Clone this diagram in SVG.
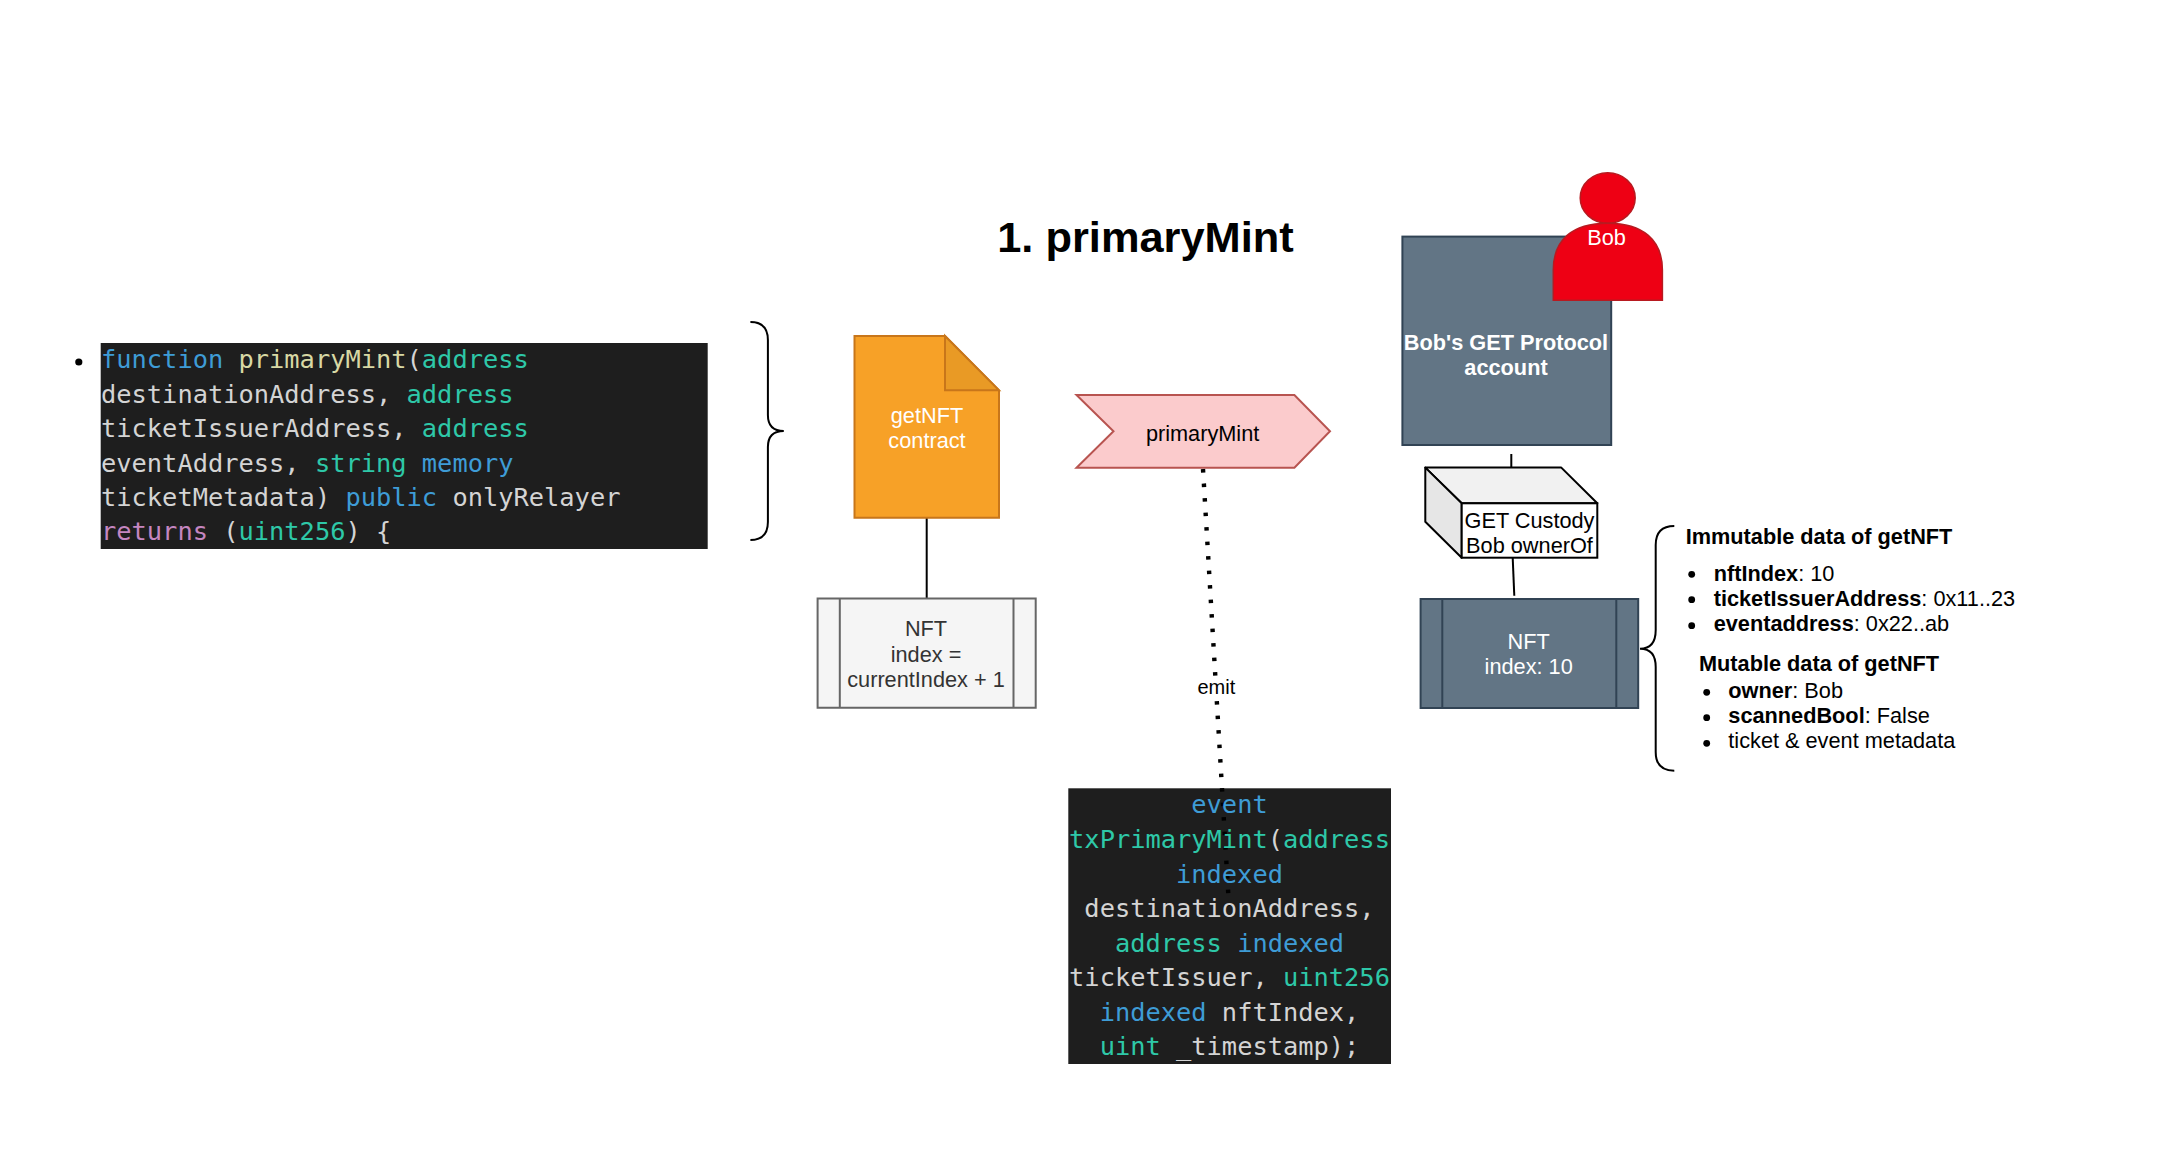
<svg xmlns="http://www.w3.org/2000/svg" width="2172" height="1156" viewBox="0 0 2172 1156">
<style>
text{font-family:"Liberation Sans",Arial,sans-serif;font-size:21.73px;fill:#000}
.c{text-anchor:middle}
.w{fill:#fff}
.b{font-weight:bold}
.m{font-family:"DejaVu Sans Mono",monospace;font-size:25.38px;fill:#d4d4d4;white-space:pre}
.k{fill:#3e9cd6}.t{fill:#2ec8a8}.y{fill:#d8d8a4}.p{fill:#c586c0}
.code{fill:#1e1e1e;stroke:none}
.slate{fill:#627585;stroke:#314354;stroke-width:2}
.line{fill:none;stroke:#000;stroke-width:2}
.dot{fill:#000;stroke:none}
</style>
<rect width="2172" height="1156" fill="#fff"/>
<g id="code-event-box"><rect class="code" x="1068.3" y="788.3" width="322.7" height="275.7"/></g>
<g id="connectors">
<path class="line" d="M926.7,517.7V598"/>
<path class="line" d="M1511.3,454V467"/>
<path class="line" d="M1512.7,557.7L1514.3,595.7"/>
<path d="M1203,469L1229,906" fill="none" stroke="#000" stroke-width="4.4" stroke-dasharray="3.6 10.93"/>
<rect x="1197" y="678" width="39" height="20" fill="#fff"/>
<text class="c" x="1216.4" y="693.5" style="font-size:20px">emit</text>
</g>
<text id="title" class="b c" x="1145.5" y="252" style="font-size:43.4px">1. primaryMint</text>
<g id="code-function">
<circle class="dot" cx="78.8" cy="362" r="3.6"/>
<rect class="code" x="100.7" y="343" width="607" height="206"/>
<text class="m" x="101" y="368"><tspan class="k">function</tspan> <tspan class="y">primaryMint</tspan>(<tspan class="t">address</tspan></text>
<text class="m" x="101" y="402.7">destinationAddress, <tspan class="t">address</tspan></text>
<text class="m" x="101" y="437">ticketIssuerAddress, <tspan class="t">address</tspan></text>
<text class="m" x="101" y="471.5">eventAddress, <tspan class="t">string</tspan> <tspan class="k">memory</tspan></text>
<text class="m" x="101" y="506">ticketMetadata) <tspan class="k">public</tspan> onlyRelayer</text>
<text class="m" x="101" y="540.3"><tspan class="p">returns</tspan> (<tspan class="t">uint256</tspan>) {</text>
</g>
<g id="brace-function">
<path class="line" d="M750.4,322Q767.9,322 767.9,340V415Q767.9,431 783.8,431Q767.9,431 767.9,447V522Q767.9,540 750.4,540"/>
</g>
<g id="contract">
<path d="M854.5,336H945L999,390.3V517.7H854.5Z" fill="#f7a127" stroke="#c8761a" stroke-width="2"/>
<path d="M945,336V390.3H999Z" fill="#e99a25" stroke="#c8761a" stroke-width="2"/>
<text class="c w" x="927" y="423">getNFT</text>
<text class="c w" x="927" y="448">contract</text>
</g>
<g id="nft-new">
<path d="M817.6,598.5H1035.7V707.7H817.6ZM839.8,598.5V707.7M1013.5,598.5V707.7" fill="#f5f5f5" stroke="#666" stroke-width="2"/>
<text class="c" x="926" y="636" style="fill:#333">NFT</text>
<text class="c" x="926" y="661.5" style="fill:#333">index =</text>
<text class="c" x="926" y="686.5" style="fill:#333">currentIndex + 1</text>
</g>
<g id="event-primary">
<path d="M1076.5,395H1294.4L1330,431.3L1294.4,467.7H1076.5L1113.5,431.3Z" fill="#fbcbcc" stroke="#b85450" stroke-width="2"/>
<text class="c" x="1202.6" y="441">primaryMint</text>
</g>
<g id="code-event">
<text class="m c" x="1229.5" y="813.3"><tspan class="k">event</tspan></text>
<text class="m c" x="1229.5" y="848"><tspan class="t">txPrimaryMint</tspan>(<tspan class="t">address</tspan></text>
<text class="m c" x="1229.5" y="882.7"><tspan class="k">indexed</tspan></text>
<text class="m c" x="1229.5" y="917.4">destinationAddress,</text>
<text class="m c" x="1229.5" y="952"><tspan class="t">address</tspan> <tspan class="k">indexed</tspan></text>
<text class="m c" x="1229.5" y="986.3">ticketIssuer, <tspan class="t">uint256</tspan></text>
<text class="m c" x="1229.5" y="1021"><tspan class="k">indexed</tspan> nftIndex,</text>
<text class="m c" x="1229.5" y="1055.4"><tspan class="t">uint</tspan> _timestamp);</text>
</g>
<g id="account">
<rect class="slate" x="1402.4" y="236.6" width="208.8" height="208.4"/>
<text class="c w b" x="1506" y="350">Bob's GET Protocol</text>
<text class="c w b" x="1506" y="375">account</text>
</g>
<g id="bob">
<ellipse cx="1607.7" cy="198" rx="27.5" ry="25.3" fill="#ee0014" stroke="#b81a20" stroke-width="1.5"/>
<path d="M1553.3,300.3V270C1553.3,240 1572,223.3 1607.7,223.3C1643,223.3 1662.4,240 1662.4,270V300.3Z" fill="#ee0014" stroke="#b81a20" stroke-width="1.5"/>
<text class="c w" x="1606.5" y="245">Bob</text>
</g>
<g id="custody">
<path d="M1425.3,467.6H1561.3L1597.3,503.3H1461.7Z" fill="#f1f1f1" stroke="#000" stroke-width="2" stroke-linejoin="round"/>
<path d="M1425.3,467.6L1461.7,503.3V557.7L1425.3,521.7Z" fill="#e6e6e6" stroke="#000" stroke-width="2" stroke-linejoin="round"/>
<rect x="1461.7" y="503.3" width="135.6" height="54.4" fill="#fff" stroke="#000" stroke-width="2"/>
<text class="c" x="1529.5" y="528">GET Custody</text>
<text class="c" x="1529.5" y="553">Bob ownerOf</text>
</g>
<g id="nft-10">
<path class="slate" d="M1420.6,599H1638.2V708H1420.6ZM1442.3,599V708M1616.3,599V708"/>
<text class="c w" x="1528.7" y="649">NFT</text>
<text class="c w" x="1528.7" y="674">index: 10</text>
</g>
<g id="brace-data">
<path class="line" d="M1674.3,526Q1655.7,526 1655.7,545V630Q1655.7,648.7 1640,648.7Q1655.7,648.7 1655.7,667V752Q1655.7,770.7 1674.3,770.7"/>
</g>
<g id="data">
<text class="b" x="1685.7" y="544">Immutable data of getNFT</text>
<circle class="dot" cx="1691.7" cy="574.3" r="3.4"/><circle class="dot" cx="1691.7" cy="599.7" r="3.4"/><circle class="dot" cx="1691.7" cy="625.7" r="3.4"/>
<text x="1713.7" y="580.5"><tspan class="b">nftIndex</tspan>: 10</text>
<text x="1713.7" y="605.5"><tspan class="b">ticketIssuerAddress</tspan>: 0x11..23</text>
<text x="1713.7" y="630.5"><tspan class="b">eventaddress</tspan>: 0x22..ab</text>
<text class="b" x="1699" y="671">Mutable data of getNFT</text>
<circle class="dot" cx="1706.7" cy="692.3" r="3.4"/><circle class="dot" cx="1706.7" cy="717.7" r="3.4"/><circle class="dot" cx="1706.7" cy="743.3" r="3.4"/>
<text x="1728.3" y="698"><tspan class="b">owner</tspan>: Bob</text>
<text x="1728.3" y="722.7"><tspan class="b">scannedBool</tspan>: False</text>
<text x="1728.3" y="748.3">ticket &amp; event metadata</text>
</g>
</svg>
